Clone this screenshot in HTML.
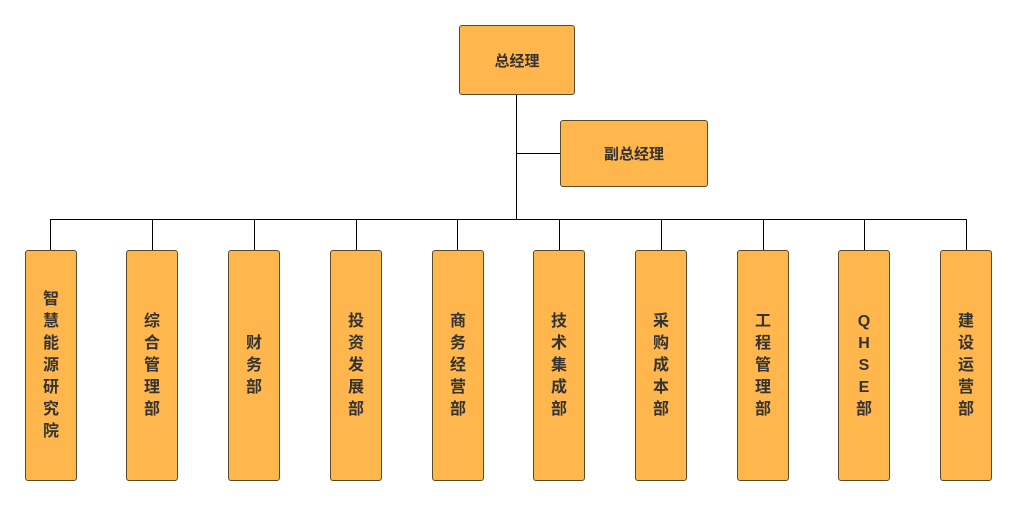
<!DOCTYPE html>
<html><head><meta charset="utf-8"><style>
body{margin:0;width:1016px;height:505px;background:#fff;position:relative;overflow:hidden;font-family:"Liberation Sans","Noto Sans CJK SC",sans-serif}
.b{position:absolute;background:#FFB74D;border:1px solid #5a4a2a;border-radius:3px;box-sizing:border-box;display:flex;align-items:center;justify-content:center;text-align:center;color:#333;font-size:16px;font-weight:bold}
.v{width:52px;height:231px;top:250px;line-height:22px;padding:0 17px;word-break:break-all}
.l{position:absolute;background:#000}
</style></head><body>
<div class="b" style="left:459px;top:25px;width:116px;height:70px;font-size:15px">总经理</div>
<div class="b" style="left:560px;top:120px;width:148px;height:67px;font-size:15px">副总经理</div>
<div class="l" style="left:516px;top:95px;width:1px;height:124px"></div>
<div class="l" style="left:516px;top:153px;width:44px;height:1px"></div>
<div class="l" style="left:50px;top:219px;width:917px;height:1px"></div>
<div class="l" style="left:50px;top:219px;width:1px;height:31px"></div>
<div class="l" style="left:152px;top:219px;width:1px;height:31px"></div>
<div class="l" style="left:254px;top:219px;width:1px;height:31px"></div>
<div class="l" style="left:356px;top:219px;width:1px;height:31px"></div>
<div class="l" style="left:457px;top:219px;width:1px;height:31px"></div>
<div class="l" style="left:559px;top:219px;width:1px;height:31px"></div>
<div class="l" style="left:661px;top:219px;width:1px;height:31px"></div>
<div class="l" style="left:763px;top:219px;width:1px;height:31px"></div>
<div class="l" style="left:864px;top:219px;width:1px;height:31px"></div>
<div class="l" style="left:966px;top:219px;width:1px;height:31px"></div>
<div class="b v" style="left:25px">智慧能源研究院</div>
<div class="b v" style="left:126px">综合管理部</div>
<div class="b v" style="left:228px">财务部</div>
<div class="b v" style="left:330px">投资发展部</div>
<div class="b v" style="left:432px">商务经营部</div>
<div class="b v" style="left:533px">技术集成部</div>
<div class="b v" style="left:635px">采购成本部</div>
<div class="b v" style="left:737px">工程管理部</div>
<div class="b v" style="left:838px">Q H S E 部</div>
<div class="b v" style="left:940px">建设运营部</div>
</body></html>
